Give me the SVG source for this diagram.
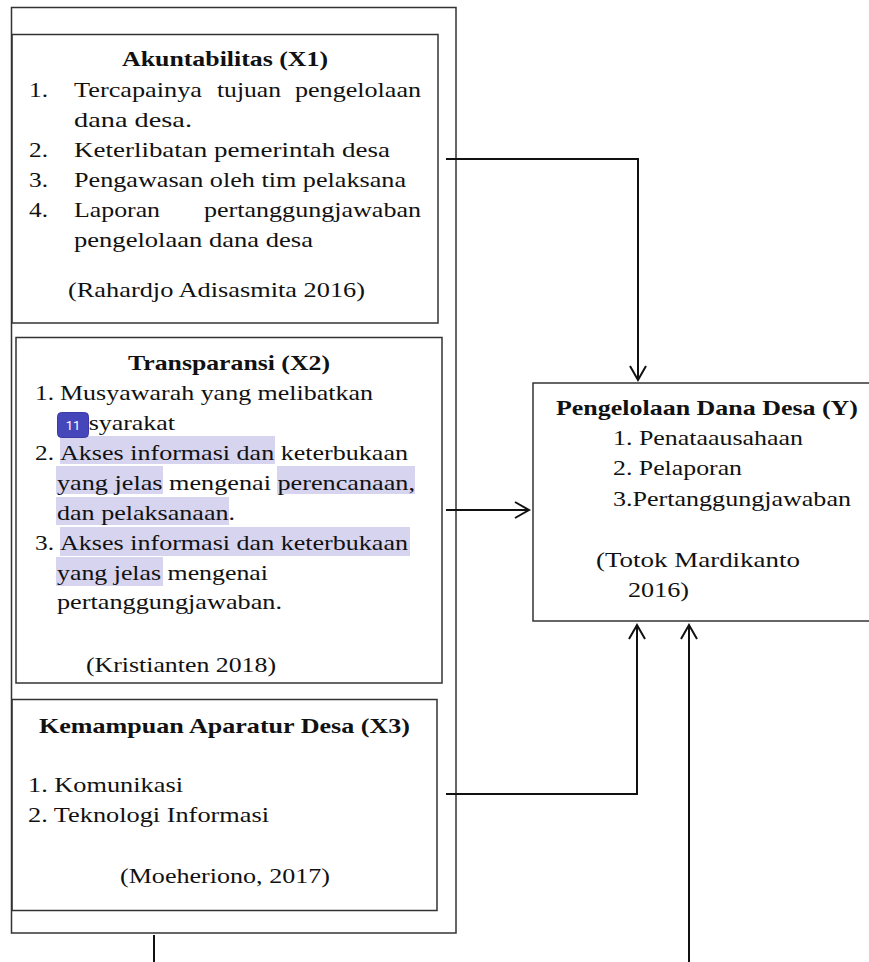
<svg xmlns="http://www.w3.org/2000/svg" width="869" height="962" viewBox="0 0 869 962">
<style>
.box{fill:none;stroke:#333;stroke-width:1.5}
.t{font-size:21px;fill:#111}
.b{font-size:22px;font-weight:bold;fill:#111}
.hl{fill:#d6d4ef}
.con{fill:none;stroke:#111;stroke-width:2}
</style>
<defs>
<marker id="arr" markerUnits="userSpaceOnUse" markerWidth="20" markerHeight="20" refX="0" refY="0" viewBox="-16 -10 20 20" orient="auto" overflow="visible">
<path d="M-14,-8 L0,0 L-14,8" fill="none" stroke="#111" stroke-width="2"/>
</marker>
</defs>
<rect width="869" height="962" fill="#fff"/>
<g font-family="Liberation Serif, Times New Roman, Times, serif">
<g id="container">
<rect class="box" x="11.5" y="7.5" width="444.5" height="925.5"/>
</g>
<g id="x1">
<rect class="box" x="12" y="34.5" width="426" height="288.5"/>
<text class="b" x="122" y="66" textLength="206" lengthAdjust="spacingAndGlyphs">Akuntabilitas (X1)</text>
<text class="t" x="29" y="97" textLength="19" lengthAdjust="spacingAndGlyphs">1.</text>
<text class="t" x="74" y="97" textLength="128" lengthAdjust="spacingAndGlyphs">Tercapainya</text>
<text class="t" x="217" y="97" textLength="64" lengthAdjust="spacingAndGlyphs">tujuan</text>
<text class="t" x="295" y="97" textLength="126" lengthAdjust="spacingAndGlyphs">pengelolaan</text>
<text class="t" x="74" y="127" textLength="118" lengthAdjust="spacingAndGlyphs">dana desa.</text>
<text class="t" x="29" y="157" textLength="19" lengthAdjust="spacingAndGlyphs">2.</text>
<text class="t" x="74" y="157" textLength="316" lengthAdjust="spacingAndGlyphs">Keterlibatan pemerintah desa</text>
<text class="t" x="29" y="187" textLength="19" lengthAdjust="spacingAndGlyphs">3.</text>
<text class="t" x="74" y="187" textLength="332" lengthAdjust="spacingAndGlyphs">Pengawasan oleh tim pelaksana</text>
<text class="t" x="29" y="217" textLength="19" lengthAdjust="spacingAndGlyphs">4.</text>
<text class="t" x="74" y="217" textLength="86" lengthAdjust="spacingAndGlyphs">Laporan</text>
<text class="t" x="204" y="217" textLength="217" lengthAdjust="spacingAndGlyphs">pertanggungjawaban</text>
<text class="t" x="74" y="247" textLength="239" lengthAdjust="spacingAndGlyphs">pengelolaan dana desa</text>
<text class="t" x="68" y="297" textLength="297" lengthAdjust="spacingAndGlyphs">(Rahardjo Adisasmita 2016)</text>
</g>
<g id="x2">
<rect class="box" x="16" y="337.5" width="426" height="345.5" stroke-width="2"/>
<rect class="hl" x="60" y="436" width="215" height="28"/>
<rect class="hl" x="56" y="466" width="107" height="28"/>
<rect class="hl" x="277" y="466" width="138" height="28"/>
<rect class="hl" x="56" y="497" width="173" height="28"/>
<rect class="hl" x="60" y="527" width="350" height="29"/>
<rect class="hl" x="56" y="557" width="107" height="29"/>
<text class="b" x="128" y="370" textLength="202" lengthAdjust="spacingAndGlyphs">Transparansi (X2)</text>
<text class="t" x="35" y="400" textLength="19" lengthAdjust="spacingAndGlyphs">1.</text>
<text class="t" x="60" y="400" textLength="313" lengthAdjust="spacingAndGlyphs">Musyawarah yang melibatkan</text>
<text class="t" x="57" y="430" textLength="118" lengthAdjust="spacingAndGlyphs">masyarakat</text>
<rect x="57.5" y="412.5" width="31" height="25" rx="4" fill="#4646bb" stroke="#3a3aa8" stroke-width="1"/>
<text x="73" y="430" font-family="Roboto, Liberation Sans, sans-serif" font-size="13" fill="#fff" text-anchor="middle">11</text>
<text class="t" x="35" y="460" textLength="19" lengthAdjust="spacingAndGlyphs">2.</text>
<text class="t" x="60" y="460" textLength="348" lengthAdjust="spacingAndGlyphs">Akses informasi dan keterbukaan</text>
<text class="t" x="57" y="490" textLength="358" lengthAdjust="spacingAndGlyphs">yang jelas mengenai perencanaan,</text>
<text class="t" x="57" y="520" textLength="178" lengthAdjust="spacingAndGlyphs">dan pelaksanaan.</text>
<text class="t" x="35" y="550" textLength="19" lengthAdjust="spacingAndGlyphs">3.</text>
<text class="t" x="60" y="550" textLength="348" lengthAdjust="spacingAndGlyphs">Akses informasi dan keterbukaan</text>
<text class="t" x="57" y="580" textLength="211" lengthAdjust="spacingAndGlyphs">yang jelas mengenai</text>
<text class="t" x="57" y="609" textLength="225" lengthAdjust="spacingAndGlyphs">pertanggungjawaban.</text>
<text class="t" x="86" y="672" textLength="190" lengthAdjust="spacingAndGlyphs">(Kristianten 2018)</text>
</g>
<g id="x3">
<rect class="box" x="12" y="699.5" width="425" height="211"/>
<text class="b" x="39" y="733" textLength="371" lengthAdjust="spacingAndGlyphs">Kemampuan Aparatur Desa (X3)</text>
<text class="t" x="28" y="792" textLength="155" lengthAdjust="spacingAndGlyphs">1. Komunikasi</text>
<text class="t" x="28" y="822" textLength="241" lengthAdjust="spacingAndGlyphs">2. Teknologi Informasi</text>
<text class="t" x="120" y="883" textLength="210" lengthAdjust="spacingAndGlyphs">(Moeheriono, 2017)</text>
</g>
<g id="y">
<rect class="box" x="533" y="383" width="340" height="238"/>
<text class="b" x="556" y="415" textLength="302" lengthAdjust="spacingAndGlyphs">Pengelolaan Dana Desa (Y)</text>
<text class="t" x="613" y="445" textLength="190" lengthAdjust="spacingAndGlyphs">1. Penataausahaan</text>
<text class="t" x="613" y="475" textLength="129" lengthAdjust="spacingAndGlyphs">2. Pelaporan</text>
<text class="t" x="613" y="506" textLength="238" lengthAdjust="spacingAndGlyphs">3.Pertanggungjawaban</text>
<text class="t" x="596" y="567" textLength="204" lengthAdjust="spacingAndGlyphs">(Totok Mardikanto</text>
<text class="t" x="628" y="597" textLength="61" lengthAdjust="spacingAndGlyphs">2016)</text>
</g>
</g>
<g id="connectors">
<path class="con" d="M446,159 H638 V380" marker-end="url(#arr)"/>
<path class="con" d="M446,510 H529" marker-end="url(#arr)"/>
<path class="con" d="M446,794 H637 V625" marker-end="url(#arr)"/>
<path class="con" d="M689,962 V625" marker-end="url(#arr)"/>
<path class="con" d="M154,935 V962" stroke-width="1.5"/>
</g>
</svg>
